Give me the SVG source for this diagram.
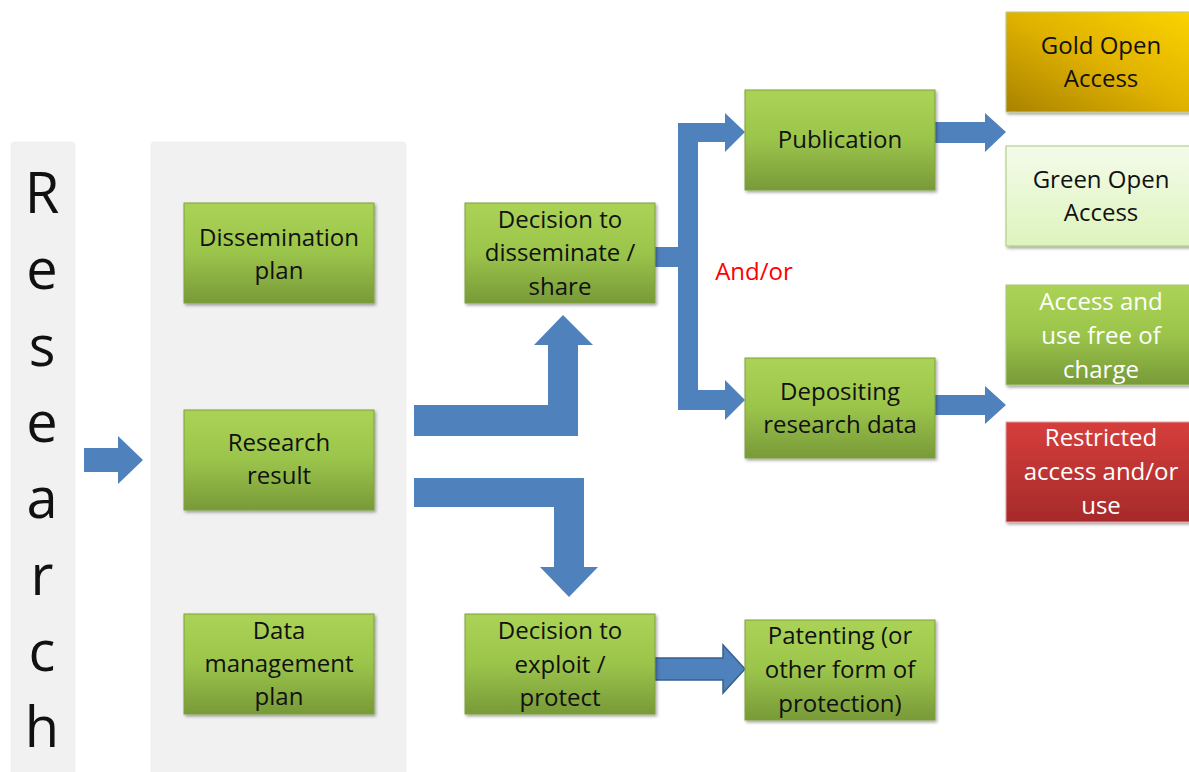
<svg xmlns="http://www.w3.org/2000/svg" width="1189" height="772" viewBox="0 0 1189 772">
<defs>
<linearGradient id="gGreen" x1="0" y1="0" x2="0" y2="1">
<stop offset="0" stop-color="#aad356"/>
<stop offset="0.5" stop-color="#9bc44b"/>
<stop offset="1" stop-color="#789a38"/>
</linearGradient>
<linearGradient id="gGold" x1="0" y1="1" x2="1" y2="0">
<stop offset="0" stop-color="#a98200"/>
<stop offset="0.5" stop-color="#e0b200"/>
<stop offset="1" stop-color="#fcd400"/>
</linearGradient>
<linearGradient id="gLight" x1="0" y1="0" x2="0" y2="1">
<stop offset="0" stop-color="#f4fbea"/>
<stop offset="1" stop-color="#ddf4bd"/>
</linearGradient>
<linearGradient id="gRed" x1="0" y1="0" x2="0" y2="1">
<stop offset="0" stop-color="#d63e3c"/>
<stop offset="1" stop-color="#a62a2a"/>
</linearGradient>
<filter id="sh" x="-10%" y="-10%" width="125%" height="130%">
<feDropShadow dx="1.5" dy="2" stdDeviation="1.5" flood-color="#000" flood-opacity="0.35"/>
</filter>
<filter id="psh" x="-10%" y="-5%" width="120%" height="110%">
<feDropShadow dx="0" dy="0" stdDeviation="1.2" flood-color="#000" flood-opacity="0.2"/>
</filter>
</defs>
<style>
.panel{fill:#f1f1f1;filter:url(#psh)}
.box{fill:url(#gGreen);stroke:#7f9f3e;stroke-width:1;filter:url(#sh)}
.t{font-family:"Open Sans","Noto Sans",sans-serif;font-size:24px;text-anchor:middle;fill:#111}
.w{fill:#fff}
.big{font-family:"Open Sans","Noto Sans",sans-serif;font-size:56px;text-anchor:middle;fill:#111}
.arr{fill:#4f81bd}
</style>
<rect width="1189" height="772" fill="#fff"/>
<rect class="panel" x="12" y="143" width="62" height="640"/>
<rect class="panel" x="152" y="143" width="253" height="640"/>
<g id="research-label">
<text class="big" x="42" y="213">R</text>
<text class="big" x="42" y="289">e</text>
<text class="big" x="42" y="366">s</text>
<text class="big" x="42" y="442">e</text>
<text class="big" x="42" y="518">a</text>
<text class="big" x="42" y="595">r</text>
<text class="big" x="42" y="671">c</text>
<text class="big" x="42" y="747">h</text>
</g>
<g id="connectors">
<path class="arr" d="M84,448 H118 V436 L143,460 L118,484 V472 H84 Z"/>
<path class="arr" d="M414,405 H548 V345 H534 L563,315 L593,345 H578 V436 H414 Z"/>
<path class="arr" d="M414,478 H584 V567 H598 L569,597 L540,567 H554 V507 H414 Z"/>
<path class="arr" d="M655,247 H678 V123 H725 V113 L745,132 L725,152 V142 H698 V390 H725 V380 L745,400 L725,420 V410 H678 V267 H655 Z"/>
<path class="arr" d="M935,122 H985 V113 L1006,132 L985,152 V143 H935 Z"/>
<path class="arr" d="M935,395 H985 V386 L1006,405 L985,424 V415 H935 Z"/>
<path class="arr" d="M655,658 H723 V645 L745,669 L723,693 V680 H655 Z" stroke="#36608f" stroke-width="1.5"/>
</g>
<g id="dissemination-plan">
<rect class="box" x="184" y="203" width="190" height="100"/>
<text class="t" x="279" y="246">Dissemination</text>
<text class="t" x="279" y="279">plan</text>
</g>
<g id="research-result">
<rect class="box" x="184" y="410" width="190" height="100"/>
<text class="t" x="279" y="451">Research</text>
<text class="t" x="279" y="484">result</text>
</g>
<g id="data-management-plan">
<rect class="box" x="184" y="614" width="190" height="100"/>
<text class="t" x="279" y="639">Data</text>
<text class="t" x="279" y="672">management</text>
<text class="t" x="279" y="705">plan</text>
</g>
<g id="decision-disseminate">
<rect class="box" x="465" y="203" width="190" height="100"/>
<text class="t" x="560" y="228">Decision to</text>
<text class="t" x="560" y="261">disseminate /</text>
<text class="t" x="560" y="295">share</text>
</g>
<g id="decision-exploit">
<rect class="box" x="465" y="614" width="190" height="100"/>
<text class="t" x="560" y="639">Decision to</text>
<text class="t" x="560" y="673">exploit /</text>
<text class="t" x="560" y="706">protect</text>
</g>
<g id="publication">
<rect class="box" x="745" y="90" width="190" height="100"/>
<text class="t" x="840" y="148">Publication</text>
</g>
<g id="depositing">
<rect class="box" x="745" y="358" width="190" height="100"/>
<text class="t" x="840" y="400">Depositing</text>
<text class="t" x="840" y="433">research data</text>
</g>
<g id="patenting">
<rect class="box" x="745" y="620" width="190" height="100"/>
<text class="t" x="840" y="644">Patenting (or</text>
<text class="t" x="840" y="678">other form of</text>
<text class="t" x="840" y="712">protection)</text>
</g>
<g id="and-or">
<text x="754" y="280" font-family="'Open Sans','Noto Sans',sans-serif" font-size="24" fill="#ff0000" text-anchor="middle">And/or</text>
</g>
<g id="gold-oa">
<rect x="1006" y="12" width="190" height="100" fill="url(#gGold)" stroke="#b9c98a" stroke-width="1" filter="url(#sh)"/>
<text class="t" x="1101" y="54">Gold Open</text>
<text class="t" x="1101" y="87">Access</text>
</g>
<g id="green-oa">
<rect x="1006" y="146" width="190" height="100" fill="url(#gLight)" stroke="#a8c87a" stroke-width="1" filter="url(#sh)"/>
<text class="t" x="1101" y="188">Green Open</text>
<text class="t" x="1101" y="221">Access</text>
</g>
<g id="access-free">
<rect x="1006" y="285" width="190" height="100" fill="url(#gGreen)" stroke="#a8c87a" stroke-width="1" filter="url(#sh)"/>
<text class="t w" x="1101" y="310">Access and</text>
<text class="t w" x="1101" y="344">use free of</text>
<text class="t w" x="1101" y="378">charge</text>
</g>
<g id="restricted">
<rect x="1006" y="422" width="190" height="100" fill="url(#gRed)" stroke="#e0a0a0" stroke-width="1" filter="url(#sh)"/>
<text class="t w" x="1101" y="446">Restricted</text>
<text class="t w" x="1101" y="480">access and/or</text>
<text class="t w" x="1101" y="514">use</text>
</g>
</svg>
